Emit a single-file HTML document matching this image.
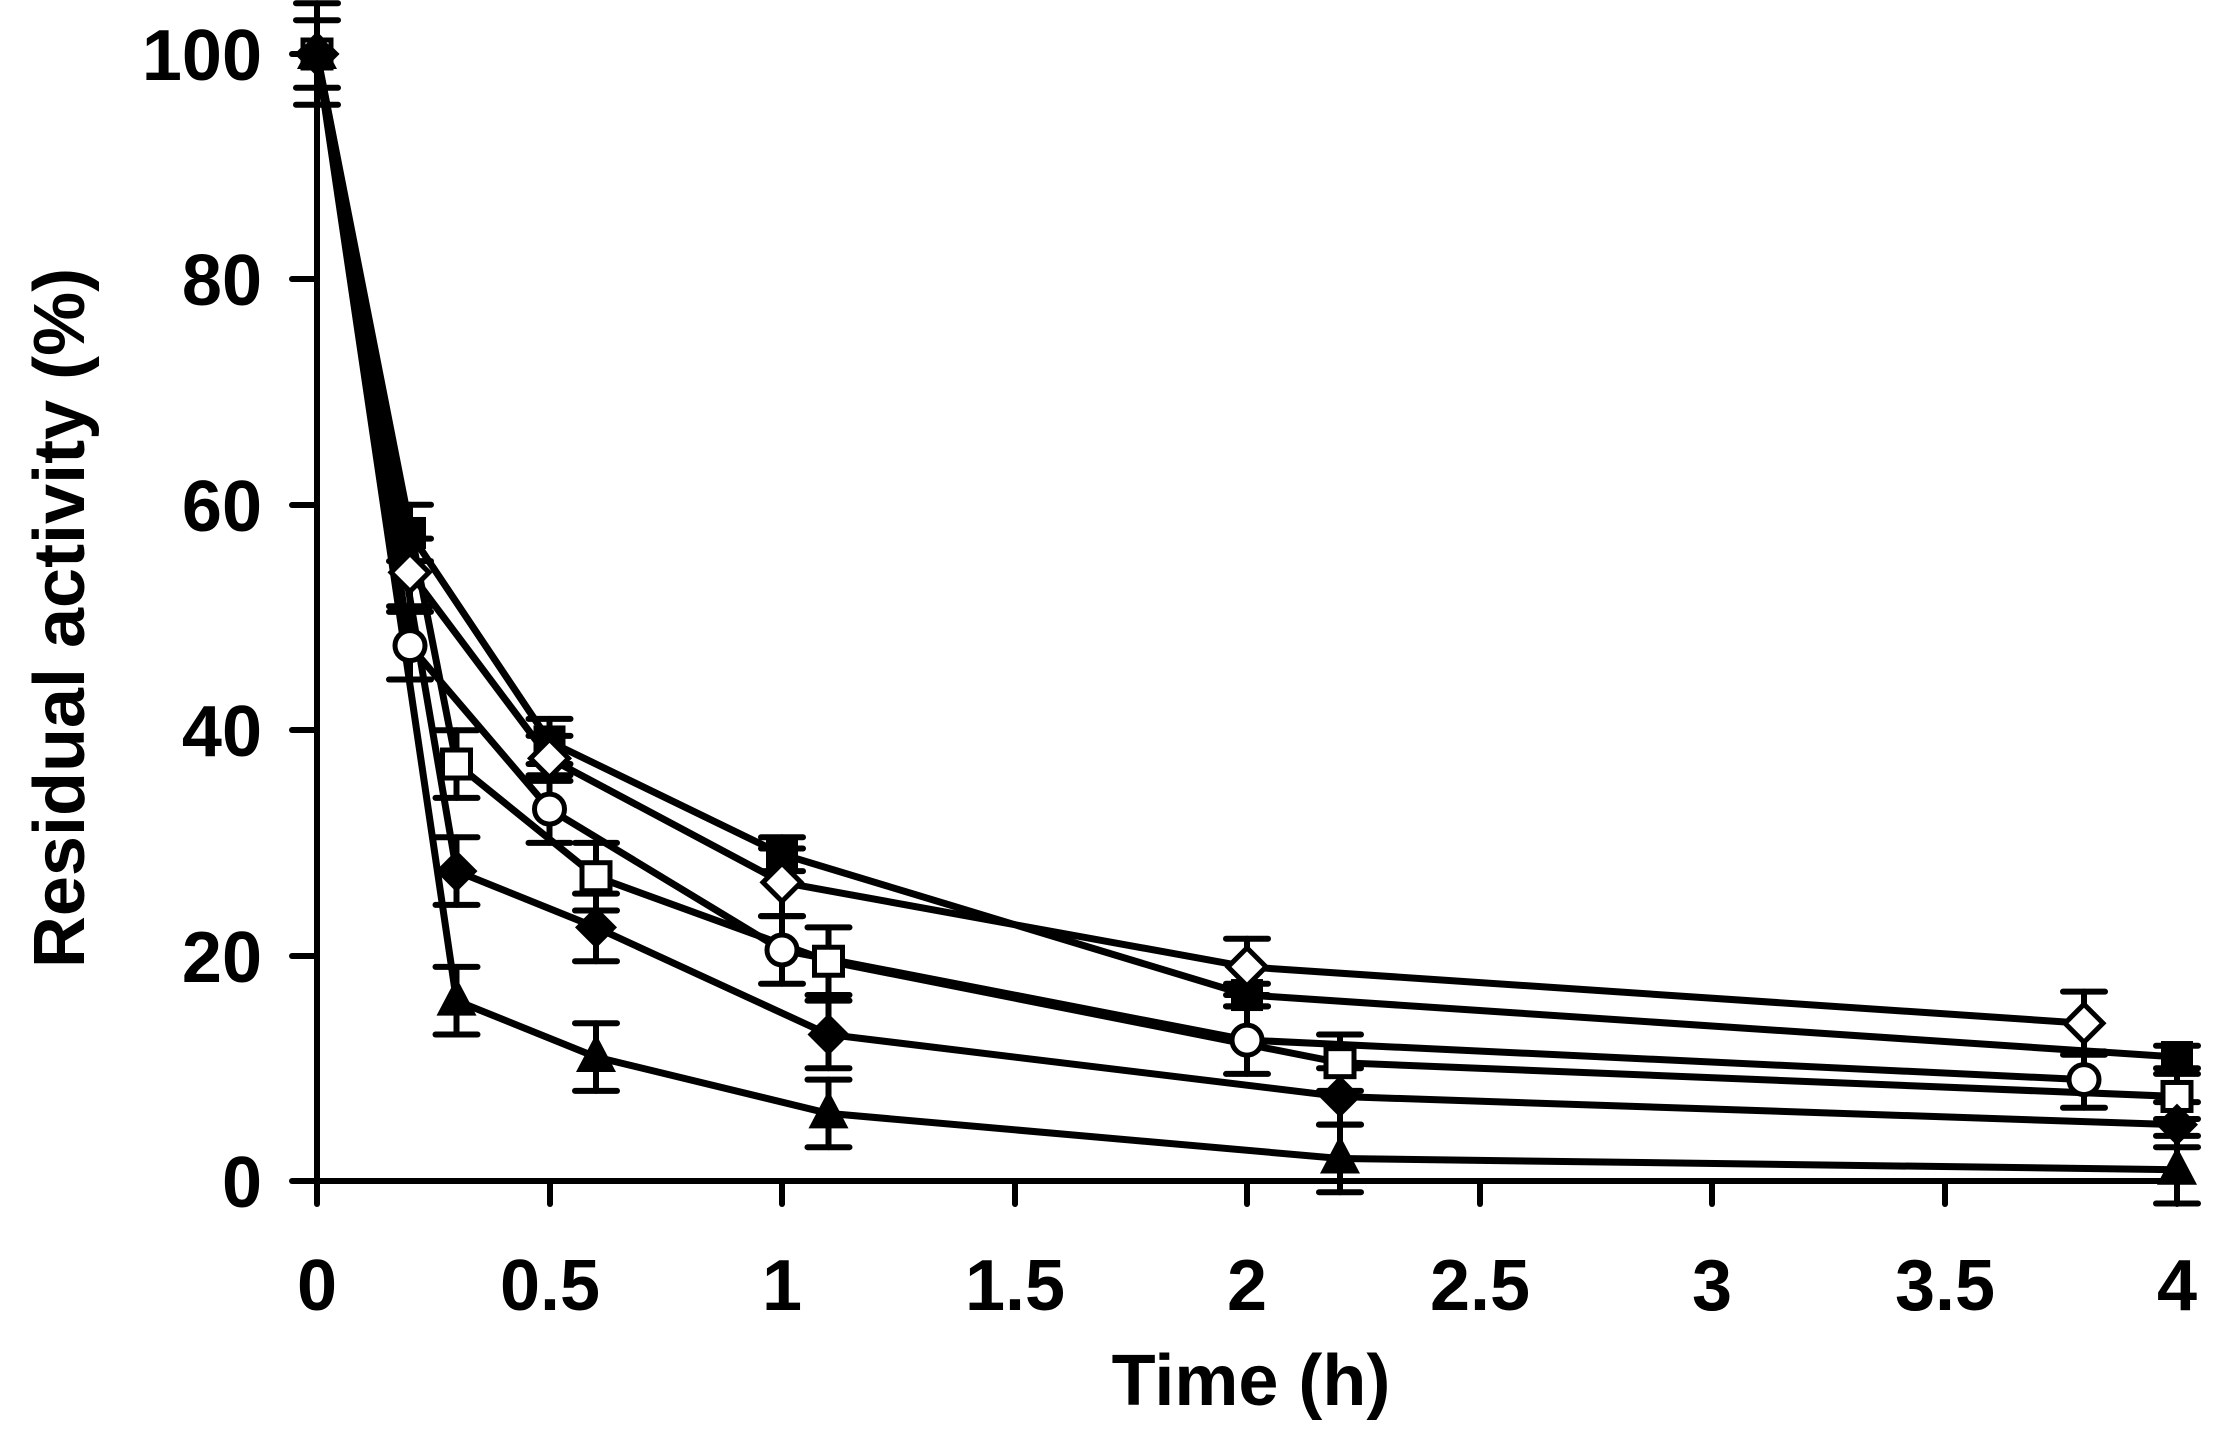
<!DOCTYPE html>
<html><head><meta charset="utf-8"><style>
html,body{margin:0;padding:0;background:#fff;}
svg{display:block;}
text{font-family:"Liberation Sans",Arial,sans-serif;font-weight:bold;fill:#000;}
</style></head><body>
<svg id="c" width="2230" height="1444" viewBox="0 0 2230 1444" xmlns="http://www.w3.org/2000/svg">
<g stroke="#000" stroke-width="6" fill="none" stroke-linecap="round">
<line x1="317" y1="54" x2="317" y2="1181"/>
<line x1="292" y1="1181" x2="2180" y2="1181"/>
<line x1="292" y1="54" x2="317" y2="54"/>
<line x1="292" y1="279" x2="317" y2="279"/>
<line x1="292" y1="505" x2="317" y2="505"/>
<line x1="292" y1="730" x2="317" y2="730"/>
<line x1="292" y1="956" x2="317" y2="956"/>
<line x1="317" y1="1181" x2="317" y2="1204"/>
<line x1="550" y1="1181" x2="550" y2="1204"/>
<line x1="782" y1="1181" x2="782" y2="1204"/>
<line x1="1015" y1="1181" x2="1015" y2="1204"/>
<line x1="1247" y1="1181" x2="1247" y2="1204"/>
<line x1="1480" y1="1181" x2="1480" y2="1204"/>
<line x1="1712" y1="1181" x2="1712" y2="1204"/>
<line x1="1945" y1="1181" x2="1945" y2="1204"/>
<line x1="2177" y1="1181" x2="2177" y2="1204"/>
</g>
<g font-size="72" text-anchor="end">
<text x="262" y="80">100</text><text x="262" y="305">80</text><text x="262" y="531">60</text>
<text x="262" y="756">40</text><text x="262" y="982">20</text><text x="262" y="1207">0</text>
</g>
<g font-size="72" text-anchor="middle">
<text x="317" y="1310">0</text><text x="550" y="1310">0.5</text><text x="782" y="1310">1</text>
<text x="1015" y="1310">1.5</text><text x="1247" y="1310">2</text><text x="1480" y="1310">2.5</text>
<text x="1712" y="1310">3</text><text x="1945" y="1310">3.5</text><text x="2177" y="1310">4</text>
<text x="1251" y="1405">Time (h)</text>
<text transform="translate(84,618) rotate(-90)">Residual activity (%)</text>
</g>
<g id="d"></g>
</svg>
<script>
var X=function(t){return 317+465*t},Y=function(v){return 1181-11.27*v};
var S=[
 ['fsq',[[0,100,0],[0.2,57.5,2.5],[0.5,39,2],[1,29,1.5],[2,16.5,1],[4,11,1]]],
 ['odi',[[0,100,0],[0.2,54,3],[0.5,37.5,2],[1,26.5,3],[2,19,2.5],[3.8,14,2.8]]],
 ['oci',[[0,100,0],[0.2,47.5,3],[0.5,33,3],[1,20.5,3],[2,12.5,3],[3.8,9,2.5]]],
 ['osq',[[0,100,3],[0.3,37,3],[0.6,27,3],[1.1,19.5,3],[2.2,10.5,2.5],[4,7.5,2]]],
 ['fdi',[[0,100,4.5],[0.3,27.5,3],[0.6,22.5,3],[1.1,13,3],[2.2,7.5,2.5],[4,5,2]]],
 ['ftr',[[0,100,0],[0.3,16,3],[0.6,11,3],[1.1,6,3],[2.2,2,3],[4,1,3]]]
];
var h='';
S.forEach(function(s){
 var p=s[1].map(function(d){return X(d[0]).toFixed(1)+','+Y(d[1]).toFixed(1)}).join(' ');
 h+='<polyline points="'+p+'" fill="none" stroke="#000" stroke-width="7"/>';
});
S.forEach(function(s){
 s[1].forEach(function(d){
  if(!d[2])return;
  var x=X(d[0]),y=Y(d[1]),e=d[2]*11.27;
  h+='<g stroke="#000" stroke-width="6" stroke-linecap="round"><line x1="'+x+'" y1="'+(y-e)+'" x2="'+x+'" y2="'+(y+e)+'"/><line x1="'+(x-21)+'" y1="'+(y-e)+'" x2="'+(x+21)+'" y2="'+(y-e)+'"/><line x1="'+(x-21)+'" y1="'+(y+e)+'" x2="'+(x+21)+'" y2="'+(y+e)+'"/></g>';
 });
});
S.forEach(function(s){
 s[1].forEach(function(d){
  var x=X(d[0]),y=Y(d[1]),t=s[0];
  if(t=='fsq')h+='<rect x="'+(x-16)+'" y="'+(y-16)+'" width="32" height="32" fill="#000"/>';
  if(t=='osq')h+='<rect x="'+(x-14)+'" y="'+(y-14)+'" width="28" height="28" fill="#fff" stroke="#000" stroke-width="5"/>';
  if(t=='oci')h+='<circle cx="'+x+'" cy="'+y+'" r="15" fill="#fff" stroke="#000" stroke-width="5"/>';
  if(t=='odi')h+='<polygon points="'+x+','+(y-19)+' '+(x+19)+','+y+' '+x+','+(y+19)+' '+(x-19)+','+y+'" fill="#fff" stroke="#000" stroke-width="5"/>';
  if(t=='fdi')h+='<polygon points="'+x+','+(y-21)+' '+(x+21)+','+y+' '+x+','+(y+21)+' '+(x-21)+','+y+'" fill="#000"/>';
  if(t=='ftr')h+='<polygon points="'+x+','+(y-23)+' '+(x+20)+','+(y+15)+' '+(x-20)+','+(y+15)+'" fill="#000"/>';
 });
});
document.getElementById('d').innerHTML=h;
</script>
</body></html>
